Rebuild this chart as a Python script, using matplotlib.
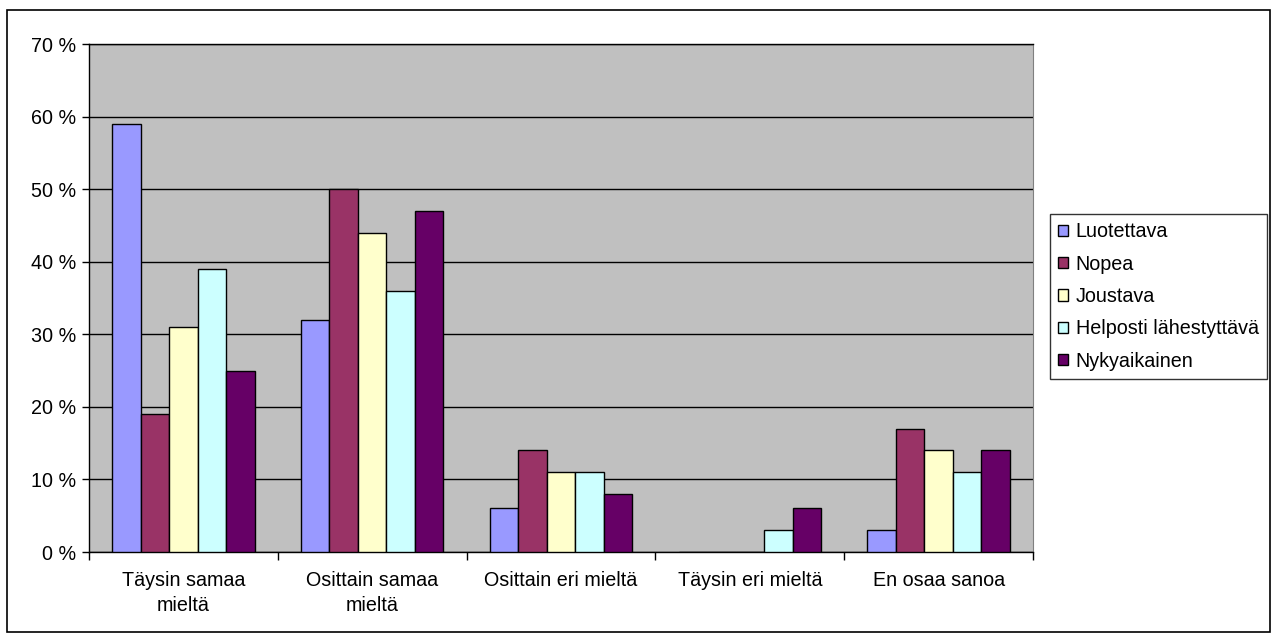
import matplotlib
matplotlib.use("Agg")
import matplotlib.pyplot as plt
import numpy as np
from matplotlib.patches import Rectangle

plt.rcParams['font.family'] = ['Liberation Sans', 'DejaVu Sans']

categories = ["Täysin samaa\nmieltä", "Osittain samaa\nmieltä", "Osittain eri mieltä",
              "Täysin eri mieltä", "En osaa sanoa"]
series_names = ["Luotettava", "Nopea", "Joustava", "Helposti lähestyttävä", "Nykyaikainen"]
luotettava = [59, 32, 6, 0, 3]
nopea = [19, 50, 14, 0, 17]
joustava = [31, 44, 11, 0, 14]
helposti = [39, 36, 11, 3, 11]
nykyaikainen = [25, 47, 8, 6, 14]
colors = ["#9999FF", "#993366", "#FFFFCC", "#CCFFFF", "#660066"]
yticks = [0, 10, 20, 30, 40, 50, 60, 70]
ytick_labels = ["0 %", "10 %", "20 %", "30 %", "40 %", "50 %", "60 %", "70 %"]

series = [luotettava, nopea, joustava, helposti, nykyaikainen]
FS = 14.2

fig = plt.figure(figsize=(12.72, 6.34), dpi=100)
fig.patches.append(Rectangle((7/1272, 1 - 632/634), 1263/1272, 622/634,
                             transform=fig.transFigure, fill=False,
                             edgecolor='black', linewidth=1.2))
ax = fig.add_axes([89/1272, 1 - 552/634, 944/1272, 508/634])
ax.set_facecolor('#C0C0C0')

x = np.arange(len(categories))
w = 0.151
for i, (vals, name, c) in enumerate(zip(series, series_names, colors)):
    ax.bar(x + (i - 2) * w, vals, width=w, color=c, edgecolor='black',
           linewidth=1.0, label=name, zorder=3)

ax.set_xlim(-0.5, len(categories) - 0.5)
ax.set_ylim(0, 70)
ax.set_yticks(yticks)
ax.set_yticklabels(ytick_labels, fontsize=FS)
ax.yaxis.grid(True, color='black', linewidth=1.0, zorder=1)
ax.set_axisbelow(True)

ax.set_xticks(np.arange(-0.5, len(categories), 1.0))
ax.set_xticklabels([])
ax.set_xticks(x, minor=True)
ax.set_xticklabels(categories, minor=True, fontsize=FS, linespacing=1.35)
ax.tick_params(axis='x', which='minor', length=0, pad=14)
ax.tick_params(axis='x', which='major', length=6, width=1, direction='out')
ax.tick_params(axis='y', length=5, width=1, direction='out', pad=4)

for s in ['left', 'bottom', 'top']:
    ax.spines[s].set_color('black')
    ax.spines[s].set_linewidth(1.0)
ax.spines['right'].set_color('#808080')

leg = ax.legend(loc='center left', bbox_to_anchor=(1050/1272, 1 - 296.5/634),
                bbox_transform=fig.transFigure, fontsize=FS, frameon=True,
                fancybox=False, edgecolor='black', handlelength=0.5,
                handleheight=0.5, handletextpad=0.4, labelspacing=0.68,
                borderpad=0.4, borderaxespad=0)
leg.get_frame().set_linewidth(1.0)

fig.savefig("out.png", dpi=100)
